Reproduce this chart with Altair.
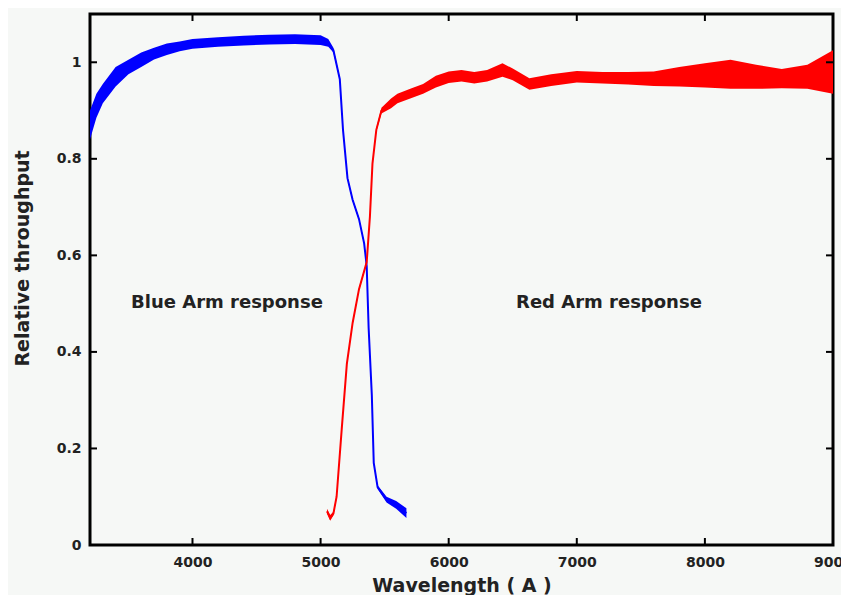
import altair as alt
import pandas as pd

# ---- data ----
blue_wl = [3200, 3250, 3300, 3400, 3500, 3600, 3700, 3800, 3900, 4000, 4200, 4400,
           4600, 4800, 5000, 5060, 5100, 5150, 5175, 5210, 5250, 5300, 5340, 5360,
           5375, 5400, 5415, 5445, 5515, 5590, 5670]
blue_val = [0.87, 0.91, 0.935, 0.97, 0.99, 1.005, 1.018, 1.027, 1.033, 1.038, 1.042, 1.045,
            1.047, 1.048, 1.046, 1.04, 1.025, 0.965, 0.86, 0.76, 0.715, 0.675, 0.625, 0.578,
            0.45, 0.31, 0.17, 0.12, 0.094, 0.083, 0.066]
blue_spread = [0.03, 0.025, 0.02, 0.02, 0.015, 0.015, 0.012, 0.012, 0.01, 0.01, 0.01, 0.01,
               0.01, 0.01, 0.01, 0.008, 0.005, 0.003, 0.003, 0.003, 0.003, 0.003, 0.003, 0.003,
               0.003, 0.003, 0.003, 0.004, 0.006, 0.008, 0.01]

red_wl = [5050, 5075, 5100, 5125, 5165, 5205, 5250, 5300, 5360, 5385, 5405, 5435, 5475,
          5550, 5600, 5700, 5800, 5900, 6000, 6100, 6200, 6300, 6420, 6500, 6630, 6800,
          7000, 7200, 7400, 7600, 7800, 8000, 8200, 8400, 8600, 8800, 8900, 9000]
red_val = [0.07, 0.056, 0.065, 0.10, 0.24, 0.375, 0.46, 0.53, 0.586, 0.68, 0.79, 0.86, 0.9,
           0.915, 0.925, 0.935, 0.945, 0.96, 0.969, 0.972, 0.968, 0.972, 0.984, 0.975, 0.955, 0.963,
           0.97, 0.968, 0.967, 0.966, 0.97, 0.973, 0.975, 0.97, 0.966, 0.97, 0.975, 0.98]
red_spread = [0.005, 0.006, 0.004, 0.003, 0.003, 0.003, 0.003, 0.003, 0.003, 0.003, 0.003, 0.004, 0.006,
              0.01, 0.01, 0.01, 0.01, 0.012, 0.012, 0.012, 0.012, 0.012, 0.014, 0.012, 0.012, 0.012,
              0.012, 0.012, 0.013, 0.015, 0.02, 0.025, 0.03, 0.025, 0.02, 0.025, 0.035, 0.045]

x_ticks = [4000, 5000, 6000, 7000, 8000, 9000]
y_ticks = [0, 0.2, 0.4, 0.6, 0.8, 1.0]

labels = ["Blue Arm response", "Red Arm response"]
label_wl = [4269, 7251]
label_val = [0.501, 0.501]

# ---- tables ----
blue = pd.DataFrame({"wl": blue_wl, "val": blue_val, "s": blue_spread})
blue["lo"] = blue["val"] - blue["s"]
blue["hi"] = blue["val"] + blue["s"]
red = pd.DataFrame({"wl": red_wl, "val": red_val, "s": red_spread})
red["lo"] = red["val"] - red["s"]
red["hi"] = red["val"] + red["s"]
xt = pd.DataFrame({"t": x_ticks})
yt = pd.DataFrame({"t": y_ticks})
ann = pd.DataFrame({"label": labels, "wl": label_wl, "val": label_val})

W, H = 743, 531
FONT = "DejaVu Sans"

xscale = alt.Scale(domain=[3200, 9000], nice=False, zero=False)
yscale = alt.Scale(domain=[0, 1.1], nice=False)

xaxis = alt.Axis(values=x_ticks, format="d", ticks=False, tickSize=0, domain=False, grid=False,
                 labelFont=FONT, labelFontWeight="bold", labelFontSize=14, labelColor="#222",
                 labelPadding=10, labelFlush=False,
                 title="Wavelength ( A )", titleFont=FONT, titleFontWeight="bold", titleFontSize=19,
                 titleColor="#222", titleBaseline="alphabetic", titleY=46)
yaxis = alt.Axis(values=y_ticks, format="~g", ticks=False, tickSize=0, domain=False, grid=False,
                 labelFont=FONT, labelFontWeight="bold", labelFontSize=14, labelColor="#222",
                 labelPadding=9, labelFlush=False,
                 title="Relative throughput", titleFont=FONT, titleFontWeight="bold", titleFontSize=19,
                 titleColor="#222", titleAngle=-90, titleBaseline="middle", titleAlign="center",
                 titleX=-68, titleY=244)

base_axes = alt.Chart(yt).mark_point(opacity=0).encode(
    x=alt.value(0),
    y=alt.Y("t:Q", scale=yscale, axis=yaxis),
)
x_axis_layer = alt.Chart(xt).mark_point(opacity=0).encode(
    x=alt.X("t:Q", scale=xscale, axis=xaxis),
    y=alt.value(0),
)

def band(df, color):
    area = alt.Chart(df).mark_area(color=color, opacity=1, clip=True).encode(
        x=alt.X("wl:Q", scale=xscale),
        y=alt.Y("lo:Q", scale=yscale),
        y2="hi:Q",
    )
    line = alt.Chart(df).mark_line(color=color, strokeWidth=2, clip=True).encode(
        x=alt.X("wl:Q", scale=xscale),
        y=alt.Y("val:Q", scale=yscale),
    )
    return area + line

ticks_bottom = alt.Chart(xt).mark_rule(color="black", strokeWidth=2).encode(
    x=alt.X("t:Q", scale=xscale), y=alt.value(H), y2=alt.value(H - 7))
ticks_top = alt.Chart(xt).mark_rule(color="black", strokeWidth=2).encode(
    x=alt.X("t:Q", scale=xscale), y=alt.value(0), y2=alt.value(7))
ticks_left = alt.Chart(yt).mark_rule(color="black", strokeWidth=2).encode(
    y=alt.Y("t:Q", scale=yscale), x=alt.value(0), x2=alt.value(7))
ticks_right = alt.Chart(yt).mark_rule(color="black", strokeWidth=2).encode(
    y=alt.Y("t:Q", scale=yscale), x=alt.value(W), x2=alt.value(W - 7))

texts = alt.Chart(ann).mark_text(font=FONT, fontWeight="bold", fontSize=18, color="#222",
                                 align="center", baseline="middle").encode(
    x=alt.X("wl:Q", scale=xscale),
    y=alt.Y("val:Q", scale=yscale),
    text="label:N",
)

chart = alt.layer(
    base_axes, x_axis_layer,
    band(blue, "#0000ff"), band(red, "#ff0000"),
    ticks_bottom, ticks_top, ticks_left, ticks_right,
    texts,
).properties(
    width=W, height=H,
    autosize=alt.AutoSizeParams(type="none"),
    padding={"left": 82, "top": 6, "right": 8, "bottom": 50},
    background="#f6f8f6",
).configure_view(
    stroke="black", strokeWidth=3, fill="#f6f8f6"
)

chart.save("out.html", embed_options={"renderer": "svg", "actions": False})
